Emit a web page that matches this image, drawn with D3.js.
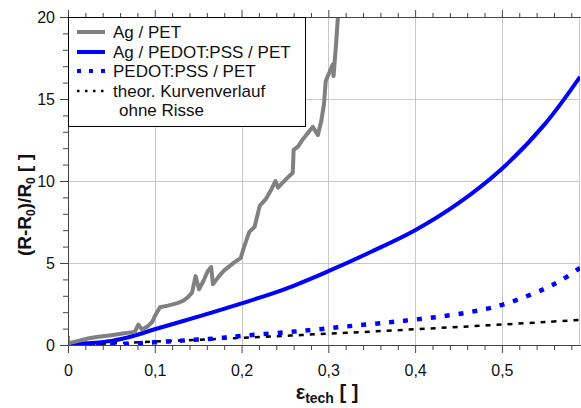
<!DOCTYPE html>
<html>
<head>
<meta charset="utf-8">
<script src="https://cdn.jsdelivr.net/npm/d3@7"></script>
<style>
  body { margin: 0; background: #fff; }
  svg { display: block; font-family: "Liberation Sans", Arial, sans-serif; }
</style>
</head>
<body>
<script>
// values: [strain, (R-R0)/R0]
var agPet = [[0,0.1],[0.012,0.25],[0.023,0.4],[0.035,0.5],[0.05,0.6],[0.063,0.7],[0.077,0.8],[0.081,1.25],
  [0.085,0.95],[0.092,1.15],[0.097,1.4],[0.1,1.75],[0.106,2.3],[0.115,2.4],[0.126,2.55],[0.133,2.7],
  [0.138,2.9],[0.143,3.2],[0.147,4.2],[0.151,3.4],[0.156,3.9],[0.161,4.5],[0.165,4.75],[0.167,3.7],
  [0.174,4.2],[0.18,4.55],[0.192,5.05],[0.199,5.3],[0.203,6.0],[0.209,6.9],[0.215,7.2],[0.221,8.5],
  [0.228,8.9],[0.234,9.45],[0.239,10.0],[0.242,9.6],[0.251,10.1],[0.259,10.5],[0.26,11.9],[0.265,12.1],
  [0.27,12.5],[0.276,12.9],[0.282,13.3],[0.288,12.8],[0.292,13.7],[0.295,14.7],[0.297,16.1],[0.305,17.1],
  [0.306,16.4],[0.309,18.4],[0.311,20.0],[0.318,20.6]];
var agPedotStart = [[0,0.55],[0,0.05]];
var agPedotPet = [[0,0.05],[0.02,0.1],[0.05,0.25],[0.075,0.55],[0.1,0.96],[0.15,1.73],[0.2,2.54],
  [0.25,3.41],[0.3,4.5],[0.35,5.7],[0.4,7.0],[0.45,8.65],[0.5,10.75],[0.55,13.5],[0.59,16.35]];
var pedotPet = [[0,0],[0.05,0.02],[0.08,0.1],[0.11,0.2],[0.14,0.3],[0.17,0.4],[0.2,0.56],[0.25,0.77],
  [0.29,0.96],[0.33,1.18],[0.37,1.38],[0.4,1.55],[0.43,1.74],[0.46,1.98],[0.49,2.3],[0.52,2.8],
  [0.55,3.45],[0.57,4.0],[0.59,4.7]];
var theory = [[0,0],[0.05,0.1],[0.1,0.21],[0.15,0.32],[0.2,0.44],[0.25,0.56],[0.3,0.69],[0.35,0.82],
  [0.4,0.96],[0.45,1.1],[0.5,1.25],[0.55,1.4],[0.59,1.53]];

var xMajor = [0, 0.1, 0.2, 0.3, 0.4, 0.5];
var yMajor = [0, 5, 10, 15, 20];
var legendLabels = ["Ag / PET", "Ag / PEDOT:PSS / PET", "PEDOT:PSS / PET", "theor. Kurvenverlauf"];

var W = 581, H = 408;
var m = {left: 68, top: 17, right: 1, bottom: 63};
var pw = W - m.left - m.right, ph = H - m.top - m.bottom;

var svg = d3.select("body").append("svg").attr("width", W).attr("height", H);

var x = d3.scaleLinear().domain([0, 0.59]).range([m.left, m.left + pw]);
var y = d3.scaleLinear().domain([0, 20]).range([m.top + ph, m.top]);

var xMinor = d3.range(0, 0.5901, 0.02).filter(function(v) { return Math.abs(v * 10 - Math.round(v * 10)) > 1e-6; });
var yMinor = d3.range(0, 20.01, 1).filter(function(v) { return v % 5 != 0; });
var fmt = function(d) { return d == 0 ? "0" : d3.format(".1f")(d).replace(".", ","); };

// grid
var grid = svg.append("g").attr("stroke", "#c8c8c8").attr("stroke-width", 1);
grid.selectAll(".gx").data(xMajor.slice(1)).enter().append("line")
  .attr("x1", function(d) { return Math.round(x(d)) + 0.5; }).attr("x2", function(d) { return Math.round(x(d)) + 0.5; })
  .attr("y1", m.top).attr("y2", m.top + ph);
grid.selectAll(".gy").data(yMajor.slice(1, -1)).enter().append("line")
  .attr("y1", function(d) { return Math.round(y(d)) + 0.5; }).attr("y2", function(d) { return Math.round(y(d)) + 0.5; })
  .attr("x1", m.left).attr("x2", m.left + pw);
svg.append("line").attr("x1", m.left + pw - 0.5).attr("x2", m.left + pw - 0.5)
  .attr("y1", m.top).attr("y2", m.top + ph).attr("stroke", "#c8c8c8");

// data lines
svg.append("clipPath").attr("id", "clip").append("rect")
  .attr("x", m.left).attr("y", m.top).attr("width", pw).attr("height", ph);
var line = d3.line().x(function(d) { return x(d[0]); }).y(function(d) { return y(d[1]); });
var smooth = d3.line().curve(d3.curveCatmullRom).x(function(d) { return x(d[0]); }).y(function(d) { return y(d[1]); });
var plot = svg.append("g").attr("clip-path", "url(#clip)").attr("fill", "none");
plot.append("path").datum(theory).attr("d", smooth).attr("stroke", "#000").attr("stroke-width", 2.5).attr("stroke-dasharray", "5,6");
plot.append("path").datum(pedotPet).attr("d", smooth)
  .attr("stroke", "#0000ff").attr("stroke-width", 4.5).attr("stroke-dasharray", "5,9");
plot.append("path").datum(agPedotStart).attr("d", line).attr("stroke", "#0000ff").attr("stroke-width", 3);
plot.append("path").datum(agPedotPet).attr("d", smooth).attr("stroke", "#0000ff").attr("stroke-width", 4);
plot.append("path").datum(agPet).attr("d", line).attr("stroke", "#808080").attr("stroke-width", 4).attr("stroke-linejoin", "round");

// axes
function styleAxis(g) {
  g.select(".domain").attr("stroke", "#444");
  g.selectAll(".tick line").attr("stroke", "#444");
  g.selectAll("text").attr("fill", "#111").style("font-size", "16px");
}
svg.append("g").attr("transform", "translate(0," + (m.top + ph) + ")")
  .call(d3.axisBottom(x).tickValues(xMajor).tickFormat(fmt).tickSize(8).tickPadding(12).tickSizeOuter(0)).call(styleAxis);
svg.append("g").attr("transform", "translate(0," + (m.top + ph) + ")")
  .call(d3.axisBottom(x).tickValues(xMinor).tickFormat("").tickSize(5).tickSizeOuter(0)).call(styleAxis);
svg.append("g").attr("transform", "translate(0," + m.top + ")")
  .call(d3.axisTop(x).tickValues(xMajor).tickFormat("").tickSize(7).tickSizeOuter(0)).call(styleAxis);
svg.append("g").attr("transform", "translate(0," + m.top + ")")
  .call(d3.axisTop(x).tickValues(xMinor).tickFormat("").tickSize(4).tickSizeOuter(0)).call(styleAxis);
svg.append("g").attr("transform", "translate(" + m.left + ",0)")
  .call(d3.axisLeft(y).tickValues(yMajor).tickSize(8).tickPadding(5).tickSizeOuter(0)).call(styleAxis);
svg.append("g").attr("transform", "translate(" + m.left + ",0)")
  .call(d3.axisLeft(y).tickValues(yMinor).tickFormat("").tickSize(5).tickSizeOuter(0)).call(styleAxis);

// axis titles
var yt = svg.append("text").attr("transform", "translate(31,205) rotate(-90)")
  .attr("text-anchor", "middle").style("font-size", "19px").style("font-weight", "bold").attr("fill", "#111");
yt.append("tspan").text("(R-R");
yt.append("tspan").text("0").style("font-size", "12px").attr("dy", 4);
yt.append("tspan").text(")/R").attr("dy", -4);
yt.append("tspan").text("0").style("font-size", "12px").attr("dy", 4);
yt.append("tspan").text(" [ ]").attr("dy", -4);

var xt = svg.append("text").attr("x", 327).attr("y", 399).attr("text-anchor", "middle")
  .style("font-size", "20px").style("font-weight", "bold").attr("fill", "#111");
xt.append("tspan").text("ε");
xt.append("tspan").text("tech").style("font-size", "14px").attr("dy", 4);
xt.append("tspan").text(" [ ]").attr("dy", -4);

// legend
var lg = svg.append("g");
lg.append("rect").attr("x", m.left + 0.5).attr("y", m.top + 0.5).attr("width", 237).attr("height", 109)
  .attr("fill", "#fff").attr("stroke", "#000");
var legStyles = [
  {c: "#808080", w: 4, d: null},
  {c: "#0000ff", w: 4, d: null},
  {c: "#0000ff", w: 4, d: "4,8"},
  {c: "#000", w: 2.5, d: "2.5,5.5"}
];
var rowY = [32, 52, 71, 91];
legendLabels.forEach(function(t, i) {
  var s = legStyles[i];
  lg.append("line").attr("x1", 77).attr("x2", 105).attr("y1", rowY[i]).attr("y2", rowY[i])
    .attr("stroke", s.c).attr("stroke-width", s.w).attr("stroke-dasharray", s.d);
  lg.append("text").attr("x", 113).attr("y", rowY[i] + 6).text(t).style("font-size", "17px").attr("fill", "#111");
});
lg.append("text").attr("x", 119).attr("y", 116).text("ohne Risse").style("font-size", "17px").attr("fill", "#111");
</script>
</body>
</html>
